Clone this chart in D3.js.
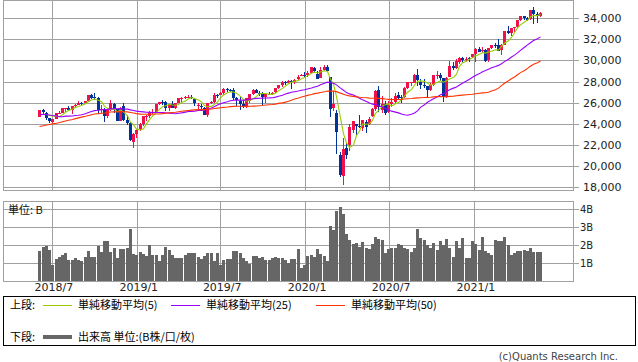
<!DOCTYPE html>
<meta charset="utf-8">
<script src="https://d3js.org/d3.v7.min.js"></script>
<style>
  body { margin: 0; background: #fff; }
  svg { display: block; }
  text { font-family: "DejaVu Sans", sans-serif; }
  .jp { font-family: "Noto Sans CJK JP", sans-serif; }
</style>
<div id="chart"></div>

<script>

// weekly candles, one per monday (2018/6/4 .. 2021/5/24)
var weeks = d3.timeMonday.range(new Date(2018, 5, 4), new Date(2021, 4, 25));

var open = [
  24635,25334,25050,24500,24160,24480,25000,25040,25430,25480,
  25300,25700,25820,25950,25930,26150,26700,26500,26430,25300,
  25400,24700,25260,25900,25400,24300,25700,24350,24050,22300,
  23050,23500,23950,24650,24700,25050,25050,25900,26050,26050,
  25450,25850,25500,26000,26400,26400,26500,26550,26300,25700,
  25700,25500,24800,26000,26100,26700,26700,26900,27300,27200,
  27200,26480,26200,25900,25700,26200,26800,27200,26900,26900,
  26500,26800,26800,27000,27400,27650,28000,27900,28100,28000,
  28200,28500,28650,28600,28800,29300,28700,28300,29100,29400,
  28400,25500,25000,21000,19000,21680,22000,23400,24000,23800,
  23600,24200,24000,24700,25400,27200,25300,25900,25100,25900,
  26100,26700,26500,26500,27400,27900,27900,28600,28000,27700,
  27600,27200,27700,28600,28600,28300,26500,28400,29500,29300,
  29900,30200,30100,30200,30300,30600,31100,30900,31000,30000,
  31150,31500,31500,31000,31500,32800,32600,33100,33200,33800,
  34200,34000,33900,34800,34400,34200];

var high = [
  25347,25402,25110,24520,24460,25050,25220,25520,25490,25690,
  25700,25830,26170,26050,26200,26770,26790,26951,26550,25800,
  25530,25380,26280,26000,25420,25600,25980,24800,24200,23140,
  23520,24050,24720,24800,25200,25440,25900,26100,26240,26150,
  25900,26110,26000,26450,26500,26600,26700,26700,26400,26000,
  25900,25550,26000,26200,26900,26800,27000,27360,27400,27300,
  27400,26500,26500,26300,26450,26800,27300,27300,27100,27000,
  26900,27050,27000,27400,27700,28050,28100,28170,28150,28290,
  28600,28700,28900,29000,29400,29400,29000,29400,29600,29570,
  28400,27102,25300,21300,22600,22300,24000,24300,24000,24800,
  24400,24400,24600,25500,27200,27580,26600,26200,26200,26400,
  26900,27000,26700,27500,28000,28000,28700,29199,28200,28200,
  27600,27900,28600,29000,28800,28300,28400,29933,29900,30100,
  30300,30350,30350,30300,30640,31200,31270,31300,31100,31200,
  31500,31650,32000,31600,32800,33230,33100,33200,33850,34250,
  34260,34150,34800,35091,34600,34600];

var low = [
  24614,24965,24380,24084,24100,24470,24950,24990,25100,25200,
  24960,25600,25810,25770,25850,26070,26310,26280,24899,25040,
  24122,24520,25200,25020,24270,24280,24240,23880,22390,21713,
  22640,23300,23750,24300,24500,24880,25000,25750,25800,25250,
  25200,25500,25400,25950,26100,26300,26400,26300,25700,25200,
  25400,24800,24680,25900,26000,26400,26700,26750,27000,27000,
  26250,25700,25300,25500,25500,26000,26700,26900,26600,25743,
  26000,26700,26700,26900,27300,27500,27700,27850,27300,27800,
  28100,28500,28400,28400,28800,28900,28200,28300,29000,28900,
  24681,25226,21154,18917,18213,20700,21400,23100,22900,23600,
  23300,23100,23900,24600,25200,25100,25000,24800,25000,25600,
  25900,26300,26000,26400,27300,27600,27900,27600,27300,27400,
  26500,27100,27600,28200,28100,26100,26400,28400,29100,29200,
  29700,29800,29900,29900,30200,29900,30800,30700,29850,29900,
  31100,31200,30900,30550,31500,32500,32300,32700,33100,33700,
  33800,33700,33800,33473,33600,34100];

var close = [
  25317,25090,24581,24271,24456,25019,25058,25451,25463,25313,
  25669,25790,25965,25917,26155,26744,26458,26447,25340,25444,
  24688,25271,25989,25413,24286,25538,24389,24101,22445,23062,
  23433,23996,24706,24737,25064,25106,25883,26031,26026,25450,
  25849,25502,25929,26425,26412,26559,26543,26505,25942,25764,
  25585,24815,25984,26089,26719,26600,26922,27332,27154,27192,
  26485,26287,25886,25629,26403,26797,27220,26935,26820,26573,
  26817,26770,26958,27347,27681,28005,27876,28051,28015,28135,
  28455,28645,28634,28823,29348,28990,28256,29103,29398,28992,
  25409,25865,23186,19174,21637,21053,23719,24242,23775,23724,
  24331,23685,24465,25383,27111,25606,25871,25016,25827,26075,
  26672,26470,26428,27433,27931,27930,28654,28133,27666,27657,
  27174,27683,28586,28606,28335,26502,28323,29480,29263,29910,
  30218,30046,30179,30199,30606,31098,30814,30997,29983,31148,
  31458,31494,30932,31496,32779,32628,33073,33153,33801,34200,
  34043,33875,34778,34382,34208,34529];

// closes of the 49 weeks before the first candle (needed for the averages)
var priorCloses = [
  21350,21414,21638,21580,21830,22092,21858,21675,21814,21988,
  21798,22268,22350,22405,22773,22871,23329,23434,23539,23422,
  23358,23558,24231,24329,24652,24754,24719,25296,25803,26072,
  26617,25521,24191,25219,25310,24538,25336,24946,23533,24103,
  23933,24360,24463,24311,24263,24831,24715,24753,24635];

// volume in B
var volume = [
  1.67,1.89,1.96,1.72,0.89,1.22,1.33,1.44,1.56,1.15,
  1.17,1.30,1.15,1.11,1.33,1.67,1.31,1.33,1.94,1.61,
  2.22,2.22,1.59,1.83,1.28,1.78,1.78,1.83,2.89,1.50,
  1.43,1.59,1.52,1.41,1.98,1.44,1.44,1.13,1.44,1.89,
  1.70,1.46,1.28,1.28,1.28,1.46,1.54,1.56,1.56,1.33,
  1.24,1.41,1.54,1.56,1.10,1.56,0.91,1.15,1.20,1.22,
  1.65,1.65,1.55,1.30,1.13,0.95,1.40,1.40,1.28,1.35,
  1.15,1.15,1.30,1.33,1.30,1.28,1.15,0.98,1.22,1.22,
  1.78,0.72,0.87,1.39,1.44,1.33,1.78,1.52,1.39,1.11,
  3.06,2.83,3.89,4.11,3.72,2.61,2.28,2.04,2.13,1.91,
  2.15,1.81,1.80,2.06,2.44,2.33,2.30,1.57,1.80,1.81,
  1.85,2.06,2.00,1.83,1.78,1.61,1.83,2.90,2.41,2.28,
  2.00,1.83,2.10,1.72,2.22,2.00,2.33,1.83,1.35,2.20,
  1.83,2.39,1.30,1.30,2.20,2.06,1.70,2.44,1.67,1.55,
  1.44,2.28,2.20,2.20,2.44,2.00,1.44,1.55,1.67,1.67,
  1.72,1.67,1.83,1.61,1.61,1.61];

var priceTicks = [18000,20000,22000,24000,26000,28000,30000,32000,34000];
var volTicks = [1,2,3,4];
var maPeriods = [5, 25, 50];
var maColors = ["#99cc00", "#9900ff", "#ff3300"];
var upColor = "#f0104a", downColor = "#003399", gridColor = "#a0a0a0";

var data = weeks.slice(0, close.length).map(function (d, i) {
  return {date: d, o: open[i], h: high[i], l: low[i], c: close[i], v: volume[i]};
});

// simple moving averages
var allCloses = priorCloses.concat(close);
function sma(n) {
  return data.map(function (d, i) {
    var k = i + priorCloses.length;
    return {date: d.date, v: d3.mean(allCloses.slice(k - n + 1, k + 1))};
  });
}

var svg = d3.select("#chart").append("svg")
    .attr("width", 638).attr("height", 362);

var x = d3.scaleTime()
    .domain([new Date(2018, 2, 17), new Date(2021, 7, 6)])
    .range([3, 574]);
var y = d3.scaleLinear().domain([18000, 34000]).range([187, 18.3]);
var yv = d3.scaleLinear().domain([0, 4]).range([281, 209]);

var monthTicks = d3.timeMonth.every(6).range(new Date(2018, 3, 1), new Date(2021, 5, 1));

function px(d) { return Math.round(x(d)); }

// ---------- upper panel ----------
var upper = svg.append("g").attr("shape-rendering", "crispEdges");

upper.selectAll(".hg").data(priceTicks).join("line")
    .attr("x1", 3).attr("x2", 579)
    .attr("y1", function (d) { return Math.round(y(d)) + 0.5; })
    .attr("y2", function (d) { return Math.round(y(d)) + 0.5; })
    .attr("stroke", gridColor);

upper.selectAll(".vg").data(monthTicks).join("line")
    .attr("x1", function (d) { return px(d) + 0.5; })
    .attr("x2", function (d) { return px(d) + 0.5; })
    .attr("y1", 0).attr("y2", 190)
    .attr("stroke", gridColor);

upper.append("rect").attr("x", 3.5).attr("y", 0.5).attr("width", 570).attr("height", 189.5)
    .attr("fill", "none").attr("stroke", gridColor);

svg.selectAll(".plab").data(priceTicks).join("text")
    .attr("x", 583).attr("y", function (d) { return y(d) + 4; })
    .text(d3.format(","))
    .style("font-size", "11px").attr("fill", "#222");

// candles
var candles = upper.append("g").selectAll("g").data(data).join("g");
candles.append("line")
    .attr("x1", function (d) { return px(d.date) + 0.5; })
    .attr("x2", function (d) { return px(d.date) + 0.5; })
    .attr("y1", function (d) { return y(d.h); })
    .attr("y2", function (d) { return y(d.l); })
    .attr("stroke", function (d) { return d.c >= d.o ? upColor : downColor; });
candles.append("rect")
    .attr("x", function (d) { return px(d.date) - 1; })
    .attr("width", 3)
    .attr("y", function (d) { return y(Math.max(d.o, d.c)); })
    .attr("height", function (d) { return Math.max(1, Math.abs(y(d.o) - y(d.c))); })
    .attr("fill", function (d) { return d.c >= d.o ? upColor : downColor; });

// moving averages
var line = d3.line()
    .x(function (d) { return px(d.date) + 0.5; })
    .y(function (d) { return y(d.v); });
maPeriods.forEach(function (n, j) {
  svg.append("path").datum(sma(n))
      .attr("d", line)
      .attr("fill", "none")
      .attr("stroke", maColors[j])
      .attr("stroke-width", 1.1);
});

// ---------- volume panel ----------
var lower = svg.append("g").attr("shape-rendering", "crispEdges");

lower.selectAll(".vhg").data(volTicks).join("line")
    .attr("x1", 3).attr("x2", 579)
    .attr("y1", function (d) { return Math.round(yv(d)) + 0.5; })
    .attr("y2", function (d) { return Math.round(yv(d)) + 0.5; })
    .attr("stroke", gridColor);

lower.selectAll(".vvg").data(monthTicks).join("line")
    .attr("x1", function (d) { return px(d) + 0.5; })
    .attr("x2", function (d) { return px(d) + 0.5; })
    .attr("y1", 201).attr("y2", 281)
    .attr("stroke", gridColor);

lower.selectAll(".bar").data(data).join("rect")
    .attr("x", function (d) { return px(d.date) - 1; })
    .attr("width", 3)
    .attr("y", function (d) { return yv(d.v); })
    .attr("height", function (d) { return yv(0) - yv(d.v); })
    .attr("fill", "#666666");

lower.append("rect").attr("x", 3.5).attr("y", 201.5).attr("width", 570).attr("height", 79.5)
    .attr("fill", "none").attr("stroke", gridColor);

svg.selectAll(".vlab").data(volTicks).join("text")
    .attr("x", 580).attr("y", function (d) { return yv(d) + 4; })
    .text(function (d) { return d + "B"; })
    .style("font-size", "10px").attr("fill", "#222");

svg.append("text").attr("class", "jp").attr("x", 8).attr("y", 214)
    .text("単位: B").style("font-size", "11px").attr("fill", "#111");

// x axis labels
svg.selectAll(".xlab").data(monthTicks).join("text")
    .attr("x", function (d) { return x(d) + 2; }).attr("y", 291)
    .attr("text-anchor", "middle")
    .text(d3.timeFormat("%Y/%-m"))
    .style("font-size", "11px").attr("fill", "#222");

// ---------- legend ----------
var lg = svg.append("g");
lg.append("rect").attr("x", 3.5).attr("y", 296.5).attr("width", 632).attr("height", 49)
    .attr("fill", "none").attr("stroke", "#000").attr("shape-rendering", "crispEdges");

lg.append("text").attr("class", "jp").attr("x", 10).attr("y", 309).text("上段:").style("font-size", "11px");
var maLegX = [43, 171, 316];
maPeriods.forEach(function (n, j) {
  lg.append("line").attr("x1", maLegX[j]).attr("x2", maLegX[j] + 29)
      .attr("y1", 305.5).attr("y2", 305.5)
      .attr("stroke", maColors[j]).attr("shape-rendering", "crispEdges");
  lg.append("text").attr("class", "jp").attr("x", maLegX[j] + 35).attr("y", 309)
      .text("単純移動平均(" + n + ")").style("font-size", "11px");
});

lg.append("text").attr("class", "jp").attr("x", 10).attr("y", 341).text("下段:").style("font-size", "11px");
lg.append("line").attr("x1", 43).attr("x2", 72).attr("y1", 337).attr("y2", 337)
    .attr("stroke", "#666").attr("stroke-width", 4);
lg.append("text").attr("class", "jp").attr("x", 78).attr("y", 341)
    .text("出来高 単位:(B株/口/枚)").style("font-size", "11px");

svg.append("text").attr("x", 618).attr("y", 360).attr("text-anchor", "end")
    .text("(c)Quants Research Inc.").style("font-size", "10px").attr("fill", "#444");

</script>
